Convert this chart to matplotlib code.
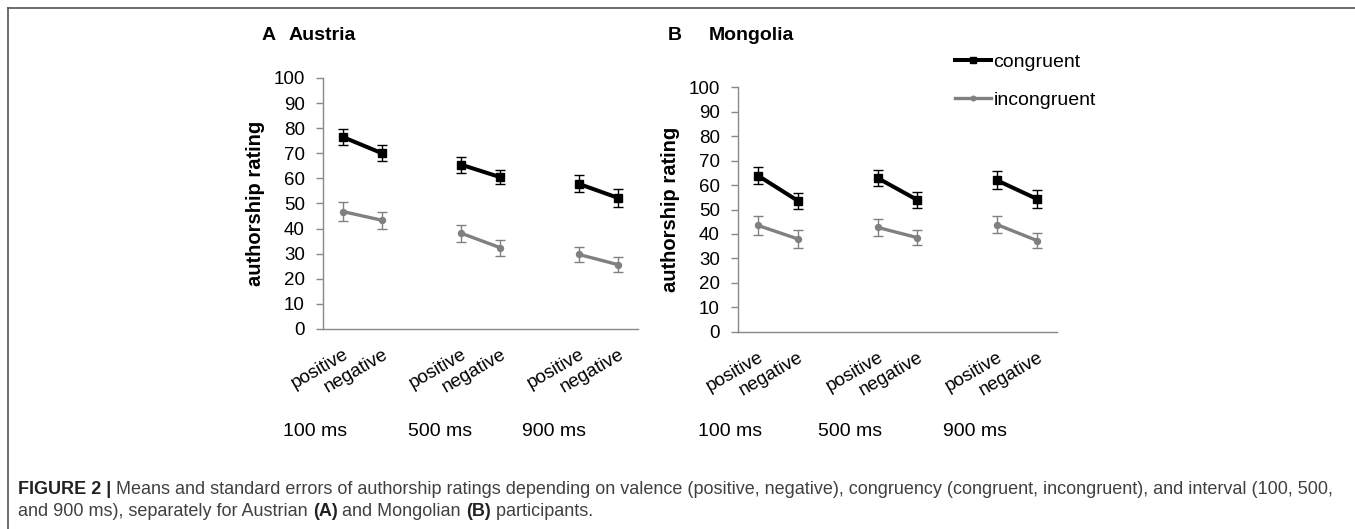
import numpy as np
import matplotlib
matplotlib.use("Agg")
import matplotlib.pyplot as plt
from matplotlib.lines import Line2D

plt.rcParams['font.family'] = ['Liberation Sans', 'DejaVu Sans']

# data (means and standard errors)
valence = ['positive', 'negative']
intervals = ['100 ms', '500 ms', '900 ms']

austria_cong = [76.5, 70.0, 65.5, 60.5, 57.8, 52.2]
austria_cong_se = [3.2, 3.1, 3.2, 2.9, 3.4, 3.5]
austria_incong = [46.8, 43.3, 38.2, 32.4, 29.7, 25.6]
austria_incong_se = [3.6, 3.4, 3.4, 3.2, 3.1, 3.0]

mongolia_cong = [63.9, 53.6, 62.9, 53.9, 61.9, 54.3]
mongolia_cong_se = [3.3, 3.3, 3.4, 3.2, 3.7, 3.7]
mongolia_incong = [43.5, 38.0, 42.7, 38.5, 43.8, 37.3]
mongolia_incong_se = [3.9, 3.7, 3.5, 3.2, 3.4, 3.0]

W, H = 1355, 529


def px(x, y):
    # pixel position -> figure fraction
    return x / W, 1 - y / H


def with_gaps(vals):
    # excel-style category axis: pos, neg, blank, pos, neg, blank, pos, neg
    out = []
    for i in range(len(intervals)):
        out += list(vals[2 * i:2 * i + 2])
        if i < len(intervals) - 1:
            out.append(np.nan)
    return np.array(out, dtype=float)


def draw_panel(ax, cong, cong_se, incong, incong_se):
    x = np.arange(8)
    ax.errorbar(x, with_gaps(cong), yerr=with_gaps(cong_se), color='black',
                lw=2.9, marker='s', ms=5.8, capsize=3.6, elinewidth=1.0,
                capthick=1.0, zorder=3)
    ax.errorbar(x, with_gaps(incong), yerr=with_gaps(incong_se), color='#808080',
                lw=2.4, marker='o', ms=4.3, capsize=3.6, elinewidth=1.0,
                capthick=1.0, zorder=2)
    ax.set_xlim(-0.5, 7.5)
    ax.set_ylim(0, 100)
    ax.set_yticks(range(0, 101, 10))
    ticklabels = []
    for i in range(len(intervals)):
        ticklabels += valence
        if i < len(intervals) - 1:
            ticklabels.append('')
    ax.set_xticks(x)
    ax.set_xticklabels(ticklabels, rotation=30, ha='right', va='top',
                       rotation_mode='anchor', fontsize=13.5)
    ax.tick_params(axis='x', length=0, pad=12)
    ax.tick_params(axis='y', length=5, width=1, color='#888888', pad=8,
                   labelsize=13.5)
    for side in ['top', 'right']:
        ax.spines[side].set_visible(False)
    for side in ['left', 'bottom']:
        ax.spines[side].set_color('#888888')
        ax.spines[side].set_linewidth(1.0)
    ax.set_ylabel('authorship rating', fontsize=14.5, fontweight='bold',
                  labelpad=6)


fig = plt.figure(figsize=(W / 100, H / 100), dpi=100)

axA = fig.add_axes([0.2384, 0.3781, 0.2324, 0.4745])
draw_panel(axA, austria_cong, austria_cong_se, austria_incong, austria_incong_se)
axB = fig.add_axes([0.5446, 0.3728, 0.2355, 0.4622])
draw_panel(axB, mongolia_cong, mongolia_cong_se, mongolia_incong, mongolia_incong_se)

# panel titles
fig.text(*px(262, 36), 'A', fontsize=14, fontweight='bold', va='center')
fig.text(*px(289, 36), 'Austria', fontsize=14, fontweight='bold', va='center')
fig.text(*px(668, 36), 'B', fontsize=14, fontweight='bold', va='center')
fig.text(*px(709, 36), 'Mongolia', fontsize=14, fontweight='bold', va='center')

# interval labels under each panel
for xs in ([283, 408, 522], [698, 818, 943]):
    for xp, lab in zip(xs, intervals):
        fig.text(*px(xp, 432), lab, fontsize=14, va='center')

# legend
handles = [Line2D([], [], color='black', lw=2.9, marker='s', ms=4),
           Line2D([], [], color='#808080', lw=2.4, marker='o', ms=3.3)]
fig.legend(handles, ['congruent', 'incongruent'], loc='upper left',
           bbox_to_anchor=px(955, 53), frameon=False, fontsize=14,
           handlelength=1.85, handletextpad=0.12, labelspacing=1.06,
           borderpad=0, borderaxespad=0)

# frame around the figure
fig.add_artist(Line2D([px(8, 0)[0], 1], [px(0, 8)[1]] * 2, color='#555555', lw=1.2))
fig.add_artist(Line2D([px(8, 0)[0]] * 2, [0, px(0, 8)[1]], color='#555555', lw=1.2))

# caption with mixed bold/regular segments
caption = [
    [('FIGURE 2 |', 'bold'),
     (' Means and standard errors of authorship ratings depending on valence '
      '(positive, negative), congruency (congruent, incongruent), and interval (100, 500,', 'normal')],
    [('and 900 ms), separately for Austrian ', 'normal'), ('(A)', 'bold'),
     (' and Mongolian ', 'normal'), ('(B)', 'bold'), (' participants.', 'normal')],
]
renderer = fig.canvas.get_renderer()
for line, base in zip(caption, [494, 516]):
    xcur = 18
    for seg, weight in line:
        t = fig.text(*px(xcur, base), seg, fontsize=13, fontweight=weight,
                     va='baseline',
                     color='#222222' if weight == 'bold' else '#404040')
        bb = t.get_window_extent(renderer)
        xcur += bb.width

fig.savefig('out.png', dpi=100)
